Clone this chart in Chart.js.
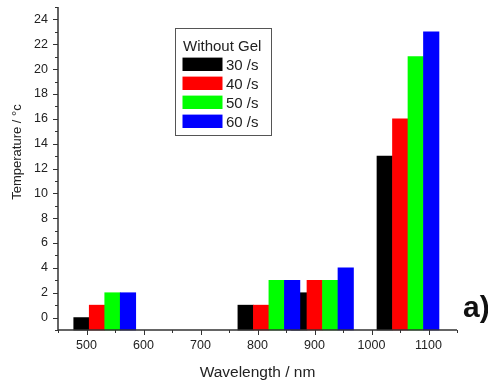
<!DOCTYPE html>
<html>
<head>
<meta charset="utf-8">
<script src="https://cdn.jsdelivr.net/npm/chart.js@4.4.1/dist/chart.umd.min.js"></script>
<style>
  html, body { margin: 0; padding: 0; background: #fff; }
  #wrap { width: 488px; height: 382px; }
</style>
</head>
<body>
<div id="wrap"><canvas id="chart" width="488" height="382"></canvas></div>
<script>
// laser wavelengths (nm), one group of bars each
const wavelengths = [532, 820, 914, 1064];

// temperature rise (°C) per irradiation time
const temp30s = [0, 1, 2, 13];
const temp40s = [1, 1, 3, 16];
const temp50s = [2, 3, 3, 21];
const temp60s = [2, 3, 4, 23];

const seriesLabels = ["30 /s", "40 /s", "50 /s", "60 /s"];
const legendTitle = "Without Gel";
const panelLabel = "a)";

const xTicks = [500, 600, 700, 800, 900, 1000, 1100];
const xMinorTicks = [450, 550, 650, 750, 850, 950, 1050, 1150];
const yTicks = [0, 2, 4, 6, 8, 10, 12, 14, 16, 18, 20, 22, 24];
const yMinorTicks = [-1, 1, 3, 5, 7, 9, 11, 13, 15, 17, 19, 21, 23, 25];

const colors = ["#000000", "#ff0000", "#00ff00", "#0000ff"];
const axisColor = "#333333";
const textColor = "#222222";
const FONT = "'Liberation Sans', Arial, sans-serif";

function toPoints(vals) {
  return wavelengths.map((w, i) => ({ x: w, y: vals[i] }));
}

const datasets = [temp30s, temp40s, temp50s, temp60s].map((vals, i) => ({
  label: seriesLabels[i],
  data: toPoints(vals),
  backgroundColor: colors[i],
  borderWidth: 0,
  base: -1,          // Origin draws columns up from the axis bottom
  barThickness: 15.5,
}));

// axes, ticks, titles and the boxed legend, drawn on top of the chart
const decor = {
  id: "decor",
  beforeDatasetsDraw(chart) {
    // draw in dataset order so a later series sits over the next group's first bar
    chart.data.datasets.forEach((d, i) => chart.getDatasetMeta(i).controller.draw());
    return false;
  },
  afterDraw(chart) {
    const ctx = chart.ctx;
    const xs = chart.scales.x, ys = chart.scales.y;
    const a = chart.chartArea;
    ctx.save();

    // axis lines
    ctx.strokeStyle = axisColor;
    ctx.lineWidth = 1.5;
    ctx.beginPath();
    ctx.moveTo(a.left, a.top);
    ctx.lineTo(a.left, a.bottom);
    ctx.lineTo(a.right, a.bottom);
    ctx.stroke();

    // tick marks
    ctx.lineWidth = 1;
    ctx.beginPath();
    yTicks.forEach(v => { const p = Math.round(ys.getPixelForValue(v)) + 0.5; ctx.moveTo(a.left - 5, p); ctx.lineTo(a.left, p); });
    yMinorTicks.forEach(v => { const p = Math.round(ys.getPixelForValue(v)) + 0.5; ctx.moveTo(a.left - 3, p); ctx.lineTo(a.left, p); });
    xTicks.forEach(v => { const p = Math.round(xs.getPixelForValue(v)) + 0.5; ctx.moveTo(p, a.bottom); ctx.lineTo(p, a.bottom + 5); });
    xMinorTicks.forEach(v => { const p = Math.round(xs.getPixelForValue(v)) + 0.5; ctx.moveTo(p, a.bottom); ctx.lineTo(p, a.bottom + 3); });
    ctx.stroke();

    // tick labels
    ctx.fillStyle = textColor;
    ctx.font = "12.5px " + FONT;
    ctx.textAlign = "right";
    ctx.textBaseline = "middle";
    yTicks.forEach(v => ctx.fillText(String(v), a.left - 10, ys.getPixelForValue(v)));
    ctx.textAlign = "center";
    xTicks.forEach(v => ctx.fillText(String(v), xs.getPixelForValue(v), a.bottom + 16));

    // axis titles
    ctx.textBaseline = "alphabetic";
    ctx.font = "15.5px " + FONT;
    ctx.fillText("Wavelength / nm", (a.left + a.right) / 2, 377);
    ctx.save();
    ctx.translate(21, 152);
    ctx.rotate(-Math.PI / 2);
    ctx.font = "13px " + FONT;
    ctx.fillText("Temperature / °c", 0, 0);
    ctx.restore();

    // legend box
    ctx.strokeStyle = "#555555";
    ctx.lineWidth = 1;
    ctx.strokeRect(175.5, 28.5, 96, 107);
    ctx.textAlign = "left";
    ctx.font = "15px " + FONT;
    ctx.fillStyle = textColor;
    ctx.fillText(legendTitle, 183, 50.5);
    chart.data.datasets.forEach((d, i) => {
      const cy = 64.3 + i * 19;
      ctx.fillStyle = d.backgroundColor;
      ctx.fillRect(182.5, cy - 6.7, 40, 13.4);
      ctx.fillStyle = textColor;
      ctx.fillText(d.label, 226, cy + 6);
    });

    // panel label
    ctx.font = "bold 30px " + FONT;
    ctx.fillStyle = "#111111";
    ctx.fillText(panelLabel, 463, 317);
    ctx.restore();
  }
};

new Chart(document.getElementById("chart"), {
  type: "bar",
  data: { datasets },
  options: {
    responsive: false,
    animation: false,
    events: [],
    layout: { padding: { top: 7, right: 31, left: 0, bottom: 0 } },
    scales: {
      x: {
        type: "linear",
        min: 450,
        max: 1150,
        offset: false,
        grid: { display: false, drawTicks: false, offset: false },
        border: { display: false },
        ticks: { display: false },
        afterFit: s => { s.height = 52; },
      },
      y: {
        type: "linear",
        min: -1,
        max: 25,
        grid: { display: false, drawTicks: false },
        border: { display: false },
        ticks: { display: false },
        afterFit: s => { s.width = 58; },
      },
    },
    plugins: {
      legend: { display: false },
      tooltip: { enabled: false },
    },
  },
  plugins: [decor],
});
</script>
</body>
</html>
